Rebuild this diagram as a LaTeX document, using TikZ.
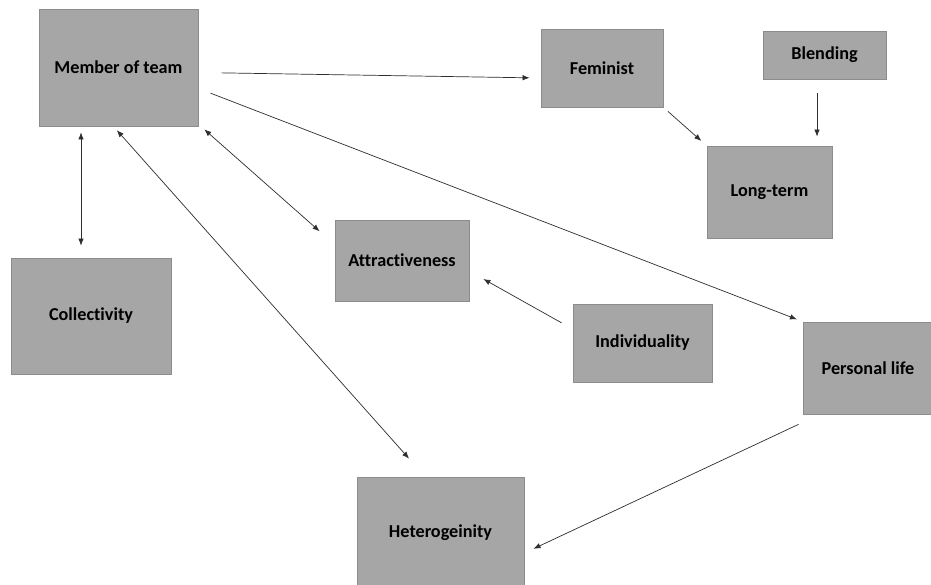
\documentclass[tikz,border=0pt]{standalone}
\usepackage{fontspec}
\setmainfont{Carlito}[Ligatures=NoCommon]
\usetikzlibrary{arrows.meta}
\definecolor{boxfill}{HTML}{A6A6A6}
\definecolor{boxline}{HTML}{8C8C8C}
\definecolor{linecol}{HTML}{2E2E2E}
\tikzset{
  box/.style={rectangle, fill=boxfill, draw=boxline, line width=0.9pt, inner sep=0pt,
    font=\fontsize{18.2}{20}\selectfont\bfseries, text=black},
  conn/.style={draw=linecol, line width=0.7pt},
  tip/.style={-{Latex[length=7pt,width=5.5pt]}},
  bothtip/.style={{Latex[length=7pt,width=5.5pt]}-{Latex[length=7pt,width=5.5pt]}}
}
\begin{document}
\begin{tikzpicture}[x=1pt,y=-1pt]
\clip (0,0) rectangle (931,584);
\fill[white] (0,0) rectangle (931,584);
% boxes
\node[box, minimum width=159pt, minimum height=117pt] (mt)   at (118.5,67.5) {Member of team};
\node[box, minimum width=122pt, minimum height=78pt]  (fem)  at (602,68)     {Feminist};
\node[box, minimum width=123pt, minimum height=48pt]  (bl)   at (824.5,55)   {Blending};
\node[box, minimum width=125pt, minimum height=92pt]  (lt)   at (769.5,192)  {Long-term};
\node[box, minimum width=160pt, minimum height=116pt] (col)  at (91,316)     {Collectivity};
\node[box, minimum width=134pt, minimum height=81pt]  (attr) at (402,260.5)  {Attractiveness};
\node[box, minimum width=139pt, minimum height=78pt]  (ind)  at (642.5,343)  {Individuality};
\node[box, minimum width=134pt, minimum height=92pt]  (pl)   at (870,368)    {};
\node[font=\fontsize{18.2}{20}\selectfont\bfseries, inner sep=0pt] (pltext) at (868,368) {Personal life};
\node[box, minimum width=167pt, minimum height=112pt] (het)  at (440.5,533)  {Heterogeinity};
% connectors
\draw[conn, tip, shorten <=23pt, shorten >=11pt] ([yshift=-5pt]mt.east) -- ([yshift=-10pt]fem.west);
\draw[conn, tip, shorten <=6pt, shorten >=7pt] (fem.south east) -- (lt.north west);
\draw[conn, tip, shorten <=14pt, shorten >=9pt] ([xshift=-7.5pt]bl.south) -- ([xshift=47.5pt]lt.north);
\draw[conn, bothtip, shorten <=6pt, shorten >=12pt] ([xshift=-37.5pt]mt.south) -- ([xshift=-10pt]col.north);
\draw[conn, bothtip, shorten <=5pt, shorten >=24pt] ([xshift=-5pt]mt.south) -- ([xshift=-15.5pt]het.north);
\draw[conn, bothtip, shorten <=4.5pt, shorten >=20pt] ([xshift=2.5pt]mt.south east) -- ([yshift=16pt]attr.west);
\draw[conn, tip, shorten <=13pt, shorten >=6pt] ([yshift=-21pt]mt.east) -- (pl.north west);
\draw[conn, tip, shorten <=12.5pt, shorten >=16pt] ([yshift=14pt]ind.west) -- ([yshift=-10.7pt]attr.east);
\draw[conn, tip, shorten <=4.5pt, shorten >=10pt] ([yshift=-8pt]pl.south west) -- ([yshift=-20pt]het.east);
\end{tikzpicture}
\end{document}
